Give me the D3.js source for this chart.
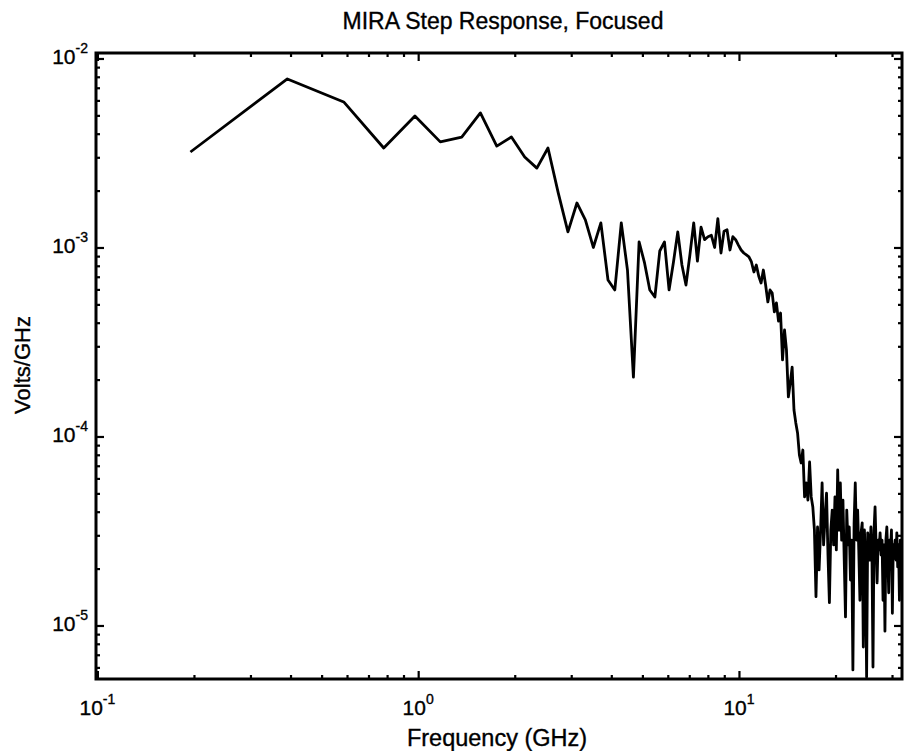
<!DOCTYPE html>
<html>
<head>
<meta charset="utf-8">
<script src="https://cdn.jsdelivr.net/npm/d3@7"></script>
<style>
  body { margin: 0; background: #fff; }
  svg { display: block; }
  text { font-family: "Liberation Sans", Arial, Helvetica, sans-serif; fill: #000; stroke: #000; stroke-width: 0.35px; }
</style>
</head>
<body>
<svg id="chart" width="909" height="751"></svg>
<script>
// Spectrum of the focused MIRA step response (FFT bins, GHz)
const freqGHz = [
  0.195, 0.391, 0.586, 0.781, 0.977, 1.172, 1.367, 1.563, 1.758, 1.953,
  2.148, 2.344, 2.539, 2.734, 2.930, 3.125, 3.320, 3.516, 3.711, 3.906,
  4.102, 4.297, 4.492, 4.688, 4.883, 5.078, 5.273, 5.469, 5.664, 5.859,
  6.055, 6.250, 6.445, 6.641, 6.836, 7.031, 7.227, 7.422, 7.617, 7.813,
  8.008, 8.203, 8.398, 8.594, 8.789, 8.984, 9.180, 9.375, 9.570, 9.766,
  9.961, 10.156, 10.352, 10.547, 10.742, 10.938, 11.133, 11.328, 11.523, 11.719,
  11.914, 12.109, 12.305, 12.500, 12.695, 12.891, 13.086, 13.281, 13.477, 13.672,
  13.867, 14.063, 14.258, 14.453, 14.648, 14.844, 15.039, 15.234, 15.430, 15.625,
  15.820, 16.016, 16.211, 16.406, 16.602, 16.797, 16.992, 17.188, 17.383, 17.578,
  17.773, 17.969, 18.164, 18.359, 18.555, 18.750, 18.945, 19.141, 19.336, 19.531,
  19.727, 19.922, 20.117, 20.313, 20.508, 20.703, 20.898, 21.094, 21.289, 21.484,
  21.680, 21.875, 22.070, 22.266, 22.461, 22.656, 22.852, 23.047, 23.242, 23.438,
  23.633, 23.828, 24.023, 24.219, 24.414, 24.609, 24.805, 25.000, 25.195, 25.391,
  25.586, 25.781, 25.977, 26.172, 26.367, 26.563, 26.758, 26.953, 27.148, 27.344,
  27.539, 27.734, 27.930, 28.125, 28.320, 28.516, 28.711, 28.906, 29.102, 29.297,
  29.492, 29.688, 29.883, 30.078, 30.273, 30.469, 30.664, 30.859, 31.055, 31.250,
  31.445, 31.641, 31.836, 32.031, 32.227
];

// Magnitude in volts per GHz, one value per bin
const voltsPerGHz = [
  3.20e-3, 7.79e-3, 5.89e-3, 3.36e-3, 4.96e-3, 3.62e-3, 3.84e-3, 5.15e-3, 3.44e-3, 3.84e-3,
  3.01e-3, 2.63e-3, 3.36e-3, 1.94e-3, 1.21e-3, 1.72e-3, 1.40e-3, 1.00e-3, 1.35e-3, 6.73e-4,
  5.96e-4, 1.35e-3, 7.60e-4, 2.06e-4, 1.07e-3, 8.28e-4, 5.96e-4, 5.47e-4, 9.58e-4, 1.07e-3,
  5.96e-4, 8.38e-4, 1.21e-3, 8.08e-4, 6.33e-4, 9.13e-4, 1.35e-3, 8.48e-4, 1.28e-3, 1.10e-3,
  1.14e-3, 1.16e-3, 1.00e-3, 1.42e-3, 9.35e-4, 1.22e-3, 1.24e-3, 9.70e-4, 1.14e-3, 1.10e-3,
  1.03e-3, 9.70e-4, 9.35e-4, 9.13e-4, 8.91e-4, 8.38e-4, 7.42e-4, 8.08e-4, 7.07e-4, 6.49e-4,
  7.60e-4, 6.33e-4, 5.15e-4, 5.96e-4, 5.74e-4, 4.56e-4, 5.09e-4, 4.08e-4, 4.50e-4, 2.54e-4,
  3.66e-4, 2.87e-4, 1.62e-4, 1.92e-4, 2.33e-4, 1.38e-4, 1.18e-4, 1.04e-4, 7.98e-5, 7.24e-5,
  8.48e-5, 4.79e-5, 5.68e-5, 4.61e-5, 7.33e-5, 4.79e-5, 4.24e-5, 3.20e-5, 1.42e-5, 3.32e-5,
  1.97e-5, 3.20e-5, 5.68e-5, 2.67e-5, 3.75e-5, 5.02e-5, 2.36e-5, 1.32e-5, 3.20e-5, 4.08e-5,
  2.67e-5, 4.79e-5, 2.51e-5, 6.65e-5, 3.20e-5, 5.68e-5, 2.83e-5, 4.61e-5, 2.22e-5, 1.11e-5,
  4.08e-5, 2.67e-5, 3.32e-5, 1.74e-5, 2.83e-5, 5.82e-6, 3.49e-5, 5.68e-5, 2.83e-5, 4.08e-5,
  2.51e-5, 1.36e-5, 3.09e-5, 3.49e-5, 7.69e-6, 3.20e-5, 2.22e-5, 5.34e-6, 3.09e-5, 2.67e-5,
  2.22e-5, 3.32e-5, 2.36e-5, 6.03e-6, 3.20e-5, 4.24e-5, 2.67e-5, 1.68e-5, 2.83e-5, 2.51e-5,
  3.09e-5, 2.36e-5, 2.83e-5, 1.36e-5, 2.67e-5, 9.33e-6, 2.83e-5, 3.32e-5, 2.36e-5, 1.49e-5,
  2.83e-5, 2.51e-5, 3.20e-5, 1.16e-5, 2.67e-5, 2.51e-5, 2.83e-5, 2.22e-5, 3.09e-5, 2.04e-5,
  2.67e-5, 1.36e-5, 2.83e-5, 1.90e-5, 2.36e-5
];

// Decade tick labels, written as 10 with a superscript exponent
const xDecades = [0.1, 1, 10];
const xExponents = ["-1", "0", "1"];
const yDecades = [1e-5, 1e-4, 1e-3, 1e-2];
const yExponents = ["-5", "-4", "-3", "-2"];

const chartTitle = "MIRA Step Response, Focused";
const xAxisTitle = "Frequency (GHz)";
const yAxisTitle = "Volts/GHz";

const plot = { left: 96, right: 902, top: 53, bottom: 679 };

const svg = d3.select("#chart");

const x = d3.scaleLog().domain([0.099, 32.23]).range([plot.left, plot.right]);
const y = d3.scaleLog().domain([5.21e-6, 1.069e-2]).range([plot.bottom, plot.top]);

const isDecade = v => Math.abs(Math.log10(v) - Math.round(Math.log10(v))) < 1e-9;

svg.append("defs").append("clipPath").attr("id", "plot-clip")
  .append("rect")
  .attr("x", plot.left).attr("y", plot.top)
  .attr("width", plot.right - plot.left).attr("height", plot.bottom - plot.top);

// Spectrum trace
const series = freqGHz.map((f, i) => ({ f, v: voltsPerGHz[i] }));
svg.append("path")
  .datum(series)
  .attr("clip-path", "url(#plot-clip)")
  .attr("fill", "none")
  .attr("stroke", "#000")
  .attr("stroke-width", 2.8)
  .attr("stroke-linejoin", "round")
  .attr("d", d3.line().x(d => x(d.f)).y(d => y(d.v)));

// Inward ticks on all four sides: long at decades, short in between
function drawTicks(axisFactory, scale, transform, ticks, len) {
  const g = svg.append("g")
    .attr("transform", transform)
    .call(axisFactory(scale).tickValues(ticks).tickSizeInner(-len).tickSizeOuter(0).tickFormat(""));
  g.select(".domain").remove();
  g.selectAll(".tick line").attr("stroke", "#000").attr("stroke-width", 2.2);
}

const xTicks = x.ticks();
const yTicks = y.ticks();
const xMajor = xTicks.filter(isDecade), xMinor = xTicks.filter(t => !isDecade(t));
const yMajor = yTicks.filter(isDecade), yMinor = yTicks.filter(t => !isDecade(t));

[[d3.axisBottom, `translate(0,${plot.bottom})`], [d3.axisTop, `translate(0,${plot.top})`]]
  .forEach(([fn, tr]) => { drawTicks(fn, x, tr, xMinor, 4); drawTicks(fn, x, tr, xMajor, 8); });
[[d3.axisLeft, `translate(${plot.left},0)`], [d3.axisRight, `translate(${plot.right},0)`]]
  .forEach(([fn, tr]) => { drawTicks(fn, y, tr, yMinor, 4); drawTicks(fn, y, tr, yMajor, 8); });

// Axes frame
svg.append("rect")
  .attr("x", plot.left).attr("y", plot.top)
  .attr("width", plot.right - plot.left).attr("height", plot.bottom - plot.top)
  .attr("fill", "none").attr("stroke", "#000").attr("stroke-width", 3);

// Decade labels
function powerLabel(sel, exp) {
  sel.append("tspan").attr("font-size", 21).text("10");
  sel.append("tspan").attr("font-size", 14).attr("dy", -11).text(exp);
}
xDecades.forEach((d, i) => {
  svg.append("text")
    .attr("x", x(d)).attr("y", 715)
    .attr("text-anchor", "middle")
    .call(powerLabel, xExponents[i]);
});
yDecades.forEach((d, i) => {
  svg.append("text")
    .attr("x", 88).attr("y", y(d) + 6)
    .attr("text-anchor", "end")
    .call(powerLabel, yExponents[i]);
});

// Titles
svg.append("text")
  .attr("x", (plot.left + plot.right) / 2 + 4).attr("y", 29)
  .attr("text-anchor", "middle").attr("font-size", 23)
  .text(chartTitle);
svg.append("text")
  .attr("x", 497).attr("y", 746)
  .attr("text-anchor", "middle").attr("font-size", 23.5)
  .text(xAxisTitle);
svg.append("text")
  .attr("transform", "translate(30,365) rotate(-90)")
  .attr("text-anchor", "middle").attr("font-size", 22)
  .text(yAxisTitle);
</script>
</body>
</html>
